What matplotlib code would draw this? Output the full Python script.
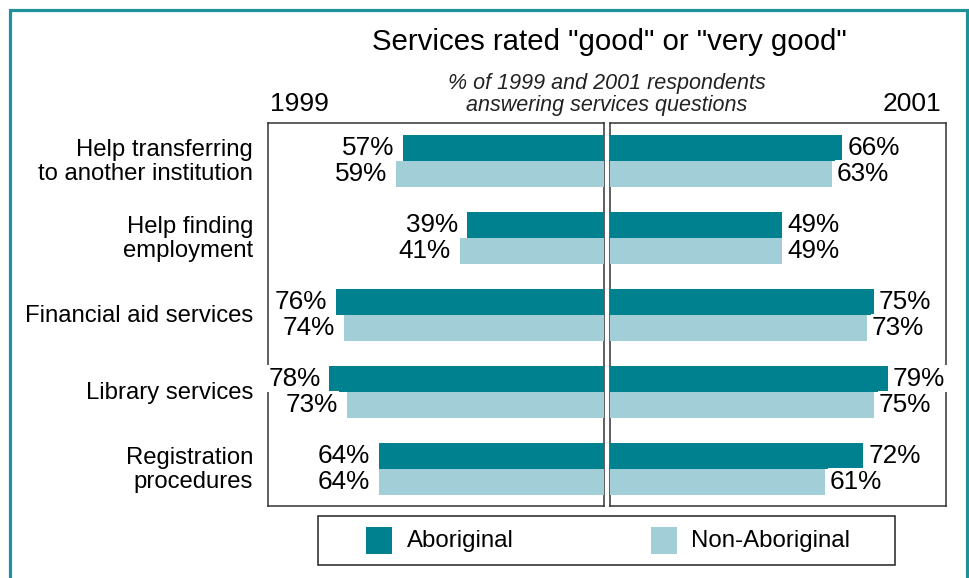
import matplotlib
matplotlib.use("Agg")
import matplotlib.pyplot as plt
import matplotlib.transforms as mtransforms
from matplotlib.patches import Rectangle

plt.rcParams['font.family'] = ['Liberation Sans', 'DejaVu Sans']

# ---- data ----
categories = ["Help transferring\nto another institution",
              "Help finding\nemployment",
              "Financial aid services",
              "Library services",
              "Registration\nprocedures"]
aboriginal_1999 = [57, 39, 76, 78, 64]
non_aboriginal_1999 = [59, 41, 74, 73, 64]
aboriginal_2001 = [66, 49, 75, 79, 72]
non_aboriginal_2001 = [63, 49, 73, 75, 61]
series_names = ["Aboriginal", "Non-Aboriginal"]
years = ["1999", "2001"]

title = 'Services rated "good" or "very good"'
subtitle_lines = ["% of 1999 and 2001 respondents",
                  "answering services questions"]

# ---- style ----
DARK = "#00818F"
LIGHT = "#A2CFD7"
FRAME = "#1E9299"
W, H = 969, 578
DPI = 100

fig = plt.figure(figsize=(W / DPI, H / DPI), dpi=DPI)


def fx(px):
    return px / W


def fy(py):
    return 1 - py / H


# panel placement in pixels
top_px, bot_px = 122.7, 506
axL = fig.add_axes([fx(268), fy(bot_px), fx(604 - 268), (bot_px - top_px) / H])
axR = fig.add_axes([fx(610), fy(bot_px), fx(946 - 610), (bot_px - top_px) / H])

XMAX = 95.45
BAR_H = 0.338
ypos = list(range(len(categories)))

for ax, ab, nab, invert in [(axL, aboriginal_1999, non_aboriginal_1999, True),
                            (axR, aboriginal_2001, non_aboriginal_2001, False)]:
    ax.barh([y - BAR_H for y in ypos], ab, height=BAR_H, align='edge',
            color=DARK, zorder=2)
    ax.barh(ypos, nab, height=BAR_H, align='edge', color=LIGHT, zorder=2)
    if invert:
        ax.set_xlim(XMAX, 0)
    else:
        ax.set_xlim(0, XMAX)
    ax.set_ylim(4.485, -0.494)
    ax.set_xticks([])
    ax.set_yticks([])
    for s in ax.spines.values():
        s.set_color("#333333")
        s.set_linewidth(1.1)
        s.set_zorder(1)

    off = -6.5 if invert else 3.6
    ha = 'right' if invert else 'left'
    for y, a, n in zip(ypos, ab, nab):
        for val, yc in [(a, y - BAR_H / 2), (n, y + BAR_H / 2)]:
            ax.annotate(f"{val}%", xy=(val, yc), xytext=(off, 0),
                        textcoords='offset points', ha=ha, va='center',
                        fontsize=18.8, color='black', annotation_clip=False,
                        zorder=5,
                        bbox=dict(boxstyle='square,pad=0.05', fc='white',
                                  ec='none'))

# category labels right-aligned left of the 1999 panel
trans = mtransforms.blended_transform_factory(fig.transFigure, axL.transData)
for y, cat in zip(ypos, categories):
    fig.text(fx(253), y + 0.015, cat, transform=trans, ha='right', va='center',
             fontsize=17.2, linespacing=1.15)

# year labels
fig.text(fx(270), fy(104), years[0], ha='left', va='center', fontsize=19)
fig.text(fx(941), fy(104), years[1], ha='right', va='center', fontsize=19)

# titles
fig.text(fx(609), fy(42), title, ha='center', va='center', fontsize=21.2)
for line, py in zip(subtitle_lines, [83, 105]):
    fig.text(fx(607), fy(py), line, ha='center', va='center', fontsize=15.5,
             style='italic', color='#222222')

# legend box
fig.patches.append(Rectangle((fx(318), fy(565)), fx(895 - 318), (565 - 516) / H,
                             transform=fig.transFigure, fill=False,
                             ec='#222222', lw=1.1))
for name, color, px, tx in [(series_names[0], DARK, 366, 407),
                            (series_names[1], LIGHT, 651, 691)]:
    fig.patches.append(Rectangle((fx(px), fy(554)), fx(26), 27 / H,
                                 transform=fig.transFigure, fc=color, ec='none'))
    fig.text(fx(tx), fy(540.5), name, ha='left', va='center', fontsize=17.3)

# outer frame
fig.patches.append(Rectangle((fx(9.5), fy(600)), fx(957), (600 - 9.5) / H,
                             transform=fig.transFigure, fill=False,
                             ec=FRAME, lw=2.3))

fig.savefig("out.png", dpi=DPI)
